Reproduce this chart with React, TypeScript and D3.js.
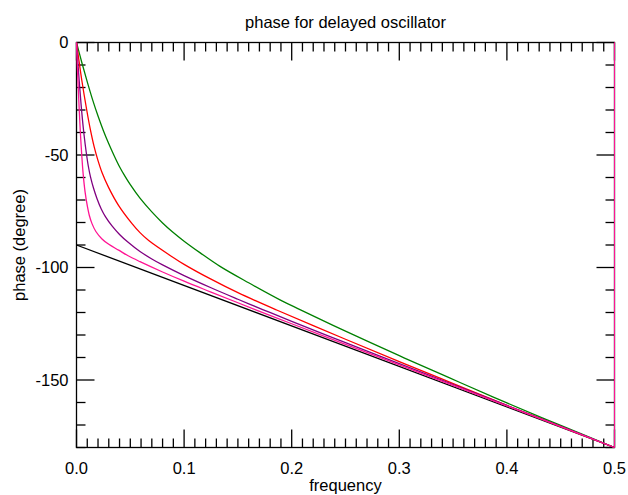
import React from 'react';
import * as d3 from 'd3';

const WIDTH = 628;
const HEIGHT = 495;

// Plot frame in page pixels
const PLOT = { left: 76.5, right: 614.5, top: 42.5, bottom: 447.5 };

const xMajorTicks = [0, 0.1, 0.2, 0.3, 0.4, 0.5];
const xTickLabels = ['0.0', '0.1', '0.2', '0.3', '0.4', '0.5'];
const yMajorTicks = [0, -50, -100, -150];
const yTickLabels = ['0', '-50', '-100', '-150'];

const titleText = 'phase for delayed oscillator';
const xLabelText = 'frequency';
const yLabelText = 'phase (degree)';

// Pure delay reference line
const freqDelay = [0, 0.5];
const phaseDelay = [-90, -180];

const freqGreen = [0, 0.005, 0.01, 0.015, 0.02, 0.025, 0.03, 0.035, 0.04, 0.045, 0.05, 0.059, 0.07, 0.08, 0.0888, 0.1, 0.115, 0.1334, 0.16, 0.19, 0.2077, 0.25, 0.3, 0.3378, 0.3564, 0.4, 0.45, 0.5];
const phaseGreen = [0, -9, -17.5, -25.5, -32.7, -39.2, -45, -50.3, -55.2, -59.4, -63.2, -69.2, -75.3, -80.2, -84, -88.3, -93.5, -99.5, -106.8, -114.6, -118.7, -128.3, -139.2, -147.2, -151.1, -160.2, -170.2, -180];

const freqRed = [0, 0.002, 0.005, 0.0095, 0.0128, 0.0165, 0.02, 0.0237, 0.0299, 0.0392, 0.0516, 0.059, 0.0671, 0.0888, 0.1, 0.125, 0.15, 0.186, 0.25, 0.3, 0.3378, 0.3564, 0.4, 0.45, 0.5];
const phaseRed = [0, -7, -17, -30, -38.5, -46.5, -52.5, -57.8, -64.5, -72.5, -80.5, -84.5, -88, -95.2, -98.6, -105.2, -111.2, -118.9, -131.9, -141.8, -149.2, -152.8, -161.3, -170.7, -180];

const freqPurple = [0, 0.0011, 0.003, 0.0048, 0.007, 0.0091, 0.011, 0.013, 0.016, 0.019, 0.023, 0.027, 0.033, 0.04, 0.048, 0.059, 0.07, 0.08, 0.1, 0.125, 0.15, 0.1736, 0.2, 0.25, 0.3, 0.35, 0.4, 0.45, 0.5];
const phasePurple = [0, -8, -20, -30.5, -41, -49, -55, -59.7, -65, -69.3, -74, -77.5, -81.5, -85.3, -88.8, -92.9, -96.2, -98.85, -103.6, -109, -114.1, -118.8, -123.9, -133.4, -142.7, -152, -161.3, -170.6, -180];

const freqPink = [0, 0.0007, 0.0017, 0.0026, 0.0036, 0.0048, 0.0062, 0.008, 0.01, 0.012, 0.0144, 0.018, 0.0237, 0.03, 0.0392, 0.048, 0.059, 0.08, 0.1, 0.125, 0.166, 0.2, 0.25, 0.3, 0.35, 0.4, 0.45, 0.5];
const phasePink = [0, -9.5, -21, -30.5, -40, -49.5, -58.5, -66.5, -72.5, -77, -80.5, -84, -87.3, -89.7, -92.3, -94.8, -97.4, -102, -106.1, -110.9, -118.7, -125, -134.2, -143.3, -152.4, -161.5, -170.7, -180];

// At the Nyquist frequency the phase wraps back to zero
const nyquistFreq = 0.5;
const wrapPhase = [-180, 0];

const series = [
  { key: 'green', color: '#008000', freq: freqGreen, phase: phaseGreen },
  { key: 'red', color: '#ff0000', freq: freqRed, phase: phaseRed },
  { key: 'purple', color: '#800080', freq: freqPurple, phase: phasePurple },
  { key: 'pink', color: '#ff1493', freq: freqPink, phase: phasePink },
];

const FONT = '"Liberation Sans", Arial, Helvetica, sans-serif';
const FONT_SIZE = 16.5;
const MAJOR_LEN = 18;
const MINOR_LEN = 9;

export default function App() {
  const x = d3.scaleLinear().domain([0, 0.5]).range([PLOT.left, PLOT.right]);
  const y = d3.scaleLinear().domain([-180, 0]).range([PLOT.bottom, PLOT.top]);

  const smooth = d3
    .line<[number, number]>()
    .x((d) => x(d[0]))
    .y((d) => y(d[1]))
    .curve(d3.curveCatmullRom.alpha(0.5));
  const straight = d3
    .line<[number, number]>()
    .x((d) => x(d[0]))
    .y((d) => y(d[1]));

  const xMinor = d3.range(0, 51).map((i) => i / 100).filter((v) => Math.round(v * 100) % 10 !== 0);
  const yMinor = d3.range(-18, 1).map((i) => i * 10).filter((v) => v % 50 !== 0);

  const delayPts = freqDelay.map((f, i) => [f, phaseDelay[i]] as [number, number]);

  return (
    <svg
      width={WIDTH}
      height={HEIGHT}
      style={{ position: 'absolute', left: 0, top: 0, display: 'block', background: '#fff' }}
      fontFamily={FONT}
    >
      <defs>
        <clipPath id="plot-clip">
          <rect x={PLOT.left - 1} y={PLOT.top - 1} width={PLOT.right - PLOT.left + 2} height={PLOT.bottom - PLOT.top + 2} />
        </clipPath>
      </defs>
      <rect x={0} y={0} width={WIDTH} height={HEIGHT} fill="#fff" />

      {/* frame */}
      <rect
        x={PLOT.left}
        y={PLOT.top}
        width={PLOT.right - PLOT.left}
        height={PLOT.bottom - PLOT.top}
        fill="none"
        stroke="#000"
        strokeWidth={1.3}
      />

      {/* ticks on all four sides, pointing inward */}
      <g stroke="#000" strokeWidth={1.3}>
        {xMajorTicks.map((v) => (
          <g key={'xM' + v}>
            <line x1={x(v)} x2={x(v)} y1={PLOT.bottom} y2={PLOT.bottom - MAJOR_LEN} />
            <line x1={x(v)} x2={x(v)} y1={PLOT.top} y2={PLOT.top + MAJOR_LEN} />
          </g>
        ))}
        {xMinor.map((v) => (
          <g key={'xm' + v}>
            <line x1={x(v)} x2={x(v)} y1={PLOT.bottom} y2={PLOT.bottom - MINOR_LEN} />
            <line x1={x(v)} x2={x(v)} y1={PLOT.top} y2={PLOT.top + MINOR_LEN} />
          </g>
        ))}
        {yMajorTicks.map((v) => (
          <g key={'yM' + v}>
            <line x1={PLOT.left} x2={PLOT.left + MAJOR_LEN} y1={y(v)} y2={y(v)} />
            <line x1={PLOT.right} x2={PLOT.right - MAJOR_LEN} y1={y(v)} y2={y(v)} />
          </g>
        ))}
        {yMinor.map((v) => (
          <g key={'ym' + v}>
            <line x1={PLOT.left} x2={PLOT.left + MINOR_LEN} y1={y(v)} y2={y(v)} />
            <line x1={PLOT.right} x2={PLOT.right - MINOR_LEN} y1={y(v)} y2={y(v)} />
          </g>
        ))}
      </g>

      {/* phase curves, drawn over the frame */}
      <g clipPath="url(#plot-clip)" fill="none" strokeWidth={1.3} strokeLinejoin="round">
        <path d={straight(delayPts) || ''} stroke="#000" />
        {series.map((s) => {
          const pts = s.freq.map((f, i) => [f, s.phase[i]] as [number, number]);
          const wrap = wrapPhase.map((p) => [nyquistFreq, p] as [number, number]);
          return (
            <g key={s.key} stroke={s.color}>
              <path d={smooth(pts) || ''} />
              <path d={straight(wrap) || ''} strokeWidth={1} />
            </g>
          );
        })}
      </g>

      <g fontSize={FONT_SIZE} fill="#000">
        {xMajorTicks.map((v, i) => (
          <text key={'xl' + v} x={x(v)} y={474} textAnchor="middle">
            {xTickLabels[i]}
          </text>
        ))}
        {yMajorTicks.map((v, i) => (
          <text key={'yl' + v} x={68.5} y={y(v)} dy="0.36em" textAnchor="end">
            {yTickLabels[i]}
          </text>
        ))}
        <text x={(PLOT.left + PLOT.right) / 2} y={27.5} textAnchor="middle">
          {titleText}
        </text>
        <text x={(PLOT.left + PLOT.right) / 2} y={491} textAnchor="middle">
          {xLabelText}
        </text>
        <text
          transform={`translate(24.5, ${(PLOT.top + PLOT.bottom) / 2}) rotate(-90)`}
          textAnchor="middle"
        >
          {yLabelText}
        </text>
      </g>
    </svg>
  );
}
